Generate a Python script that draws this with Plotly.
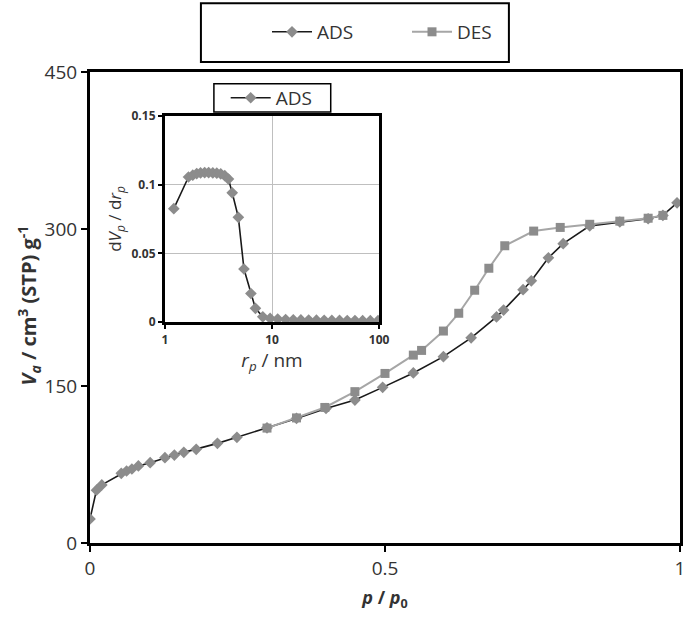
import plotly.graph_objects as go

# Main isotherm data
ads_x = [0.0, 0.011, 0.02, 0.053, 0.062, 0.071, 0.082, 0.102, 0.127, 0.143, 0.159, 0.180,
         0.216, 0.249, 0.30, 0.35, 0.40, 0.449, 0.496, 0.548, 0.599, 0.646, 0.689, 0.701,
         0.734, 0.748, 0.777, 0.802, 0.847, 0.898, 0.946, 0.971, 0.995]
ads_y = [23, 50.5, 55.5, 66.6, 68.8, 70.7, 73.6, 76.7, 81.5, 84, 86.6, 89.5,
         95.2, 101, 110, 119, 128.5, 136.6, 148.7, 162.5, 178, 196, 216, 222.5,
         242, 250.5, 272.5, 286, 303, 306.7, 309.8, 313, 325]

des_x = [0.30, 0.35, 0.398, 0.449, 0.50, 0.548, 0.562, 0.599, 0.625, 0.652, 0.676, 0.703,
         0.752, 0.797, 0.847, 0.898, 0.946, 0.971]
des_y = [109.8, 119.5, 129.5, 144.6, 162, 179.5, 184, 202.5, 219.5, 241.5, 262.5, 284,
         298, 301.5, 304.5, 307.5, 310.3, 313]

# Inset pore size distribution
psd_r = [1.21, 1.66, 1.82, 1.98, 2.15, 2.35, 2.56, 2.80, 3.05, 3.32, 3.62, 3.92, 4.25, 4.85,
         5.47, 6.35, 7.0, 8.2, 9.6, 11.3, 13.4, 15.8, 18.6, 22.0, 26.0, 30.7, 36.2, 42.7,
         50.4, 59.5, 70.2, 82.8, 97.7]
psd_v = [0.0825, 0.1055, 0.1068, 0.108, 0.1085, 0.1087, 0.1087, 0.1085, 0.1083, 0.1078, 0.1065, 0.104,
         0.094, 0.0762, 0.0386, 0.0208, 0.0100, 0.0038, 0.0027, 0.0022, 0.0019, 0.0017, 0.0016,
         0.0015, 0.0014, 0.0013, 0.0012, 0.0012, 0.0011, 0.0011, 0.0010, 0.0010, 0.0010]

main_ticks_y = [0, 150, 300, 450]
main_ticks_x = [0, 0.5, 1]
inset_ticks_y = [0, 0.05, 0.1, 0.15]
inset_ticks_y_text = ["0", "0.05", "0.1", "0.15"]
inset_ticks_x = [1, 10, 100]

MARK = "#8c8c8c"
FONT = "Open Sans"
TXT = "#333333"

fig = go.Figure()

fig.add_trace(go.Scatter(
    x=ads_x, y=ads_y, mode="lines+markers", name="ADS",
    line=dict(color="#1a1a1a", width=1.6),
    marker=dict(symbol="diamond", size=9, color=MARK),
    legend="legend", xaxis="x", yaxis="y"))
fig.add_trace(go.Scatter(
    x=des_x, y=des_y, mode="lines+markers", name="DES",
    line=dict(color="#a6a6a6", width=2),
    marker=dict(symbol="square", size=9, color=MARK),
    legend="legend", xaxis="x", yaxis="y"))
fig.add_trace(go.Scatter(
    x=psd_r, y=psd_v, mode="lines+markers", name="ADS",
    line=dict(color="#1a1a1a", width=1.6),
    marker=dict(symbol="diamond", size=9, color=MARK),
    legend="legend2", xaxis="x2", yaxis="y2"))

fig.update_layout(
    width=685, height=621,
    margin=dict(l=90, r=5, t=72, b=78, autoexpand=False),
    paper_bgcolor="white", plot_bgcolor="white",
    font=dict(family=FONT, color=TXT),
    xaxis=dict(
        domain=[0, 1], range=[0, 1], tickvals=main_ticks_x, ticktext=["0", "0.5", "1"],
        showgrid=False, zeroline=False, showline=True, linecolor="black", linewidth=3,
        mirror=True, ticks="outside", ticklen=6, tickwidth=2, tickcolor="black",
        tickfont=dict(size=19, color=TXT), automargin=False, ticklabeloverflow="allow",
        title=dict(text="<b><i>p</i> / <i>p</i><sub>0</sub></b>", font=dict(size=18, color=TXT), standoff=12),
    ),
    yaxis=dict(
        domain=[0, 1], range=[0, 450], tickvals=main_ticks_y,
        showgrid=False, zeroline=False, showline=True, linecolor="black", linewidth=3,
        mirror=True, ticks="outside", ticklen=6, tickwidth=2, tickcolor="black",
        tickfont=dict(size=19, color=TXT), automargin=False, ticklabeloverflow="allow",
    ),
    xaxis2=dict(
        domain=[0.127, 0.49], anchor="y2", type="log", range=[0, 2],
        tickvals=inset_ticks_x, ticktext=["1", "10", "100"],
        showgrid=True, gridcolor="#bfbfbf", gridwidth=1,
        zeroline=False, showline=True, linecolor="black", linewidth=3, mirror=True,
        ticks="outside", ticklen=4, tickwidth=2, tickcolor="black",
        tickfont=dict(size=12, color=TXT, weight="bold"), ticklabeloverflow="allow",
        title=dict(text="<i>r</i><sub><i>p</i></sub> / nm", font=dict(size=19, color=TXT), standoff=0),
    ),
    yaxis2=dict(
        domain=[0.469, 0.907], anchor="x2", range=[0, 0.15],
        tickvals=inset_ticks_y, ticktext=inset_ticks_y_text,
        showgrid=True, gridcolor="#bfbfbf", gridwidth=1,
        zeroline=False, showline=True, linecolor="black", linewidth=3, mirror=True,
        ticks="outside", ticklen=4, tickwidth=2, tickcolor="black",
        tickfont=dict(size=12, color=TXT, weight="bold"), ticklabeloverflow="allow",
        title=dict(text="d<i>V</i><sub><i>p</i></sub> / d<i>r</i><sub><i>p</i></sub>",
                   font=dict(size=17, color=TXT), standoff=6),
    ),
    legend=dict(
        orientation="h", x=0.30, y=1.085, xanchor="left", yanchor="middle",
        bgcolor="rgba(0,0,0,0)", borderwidth=0, itemwidth=40, entrywidth=85,
        font=dict(size=19, color=TXT),
    ),
    legend2=dict(
        orientation="h", x=0.23, y=0.945, xanchor="left", yanchor="middle",
        bgcolor="rgba(0,0,0,0)", borderwidth=0, itemwidth=40,
        font=dict(size=19, color=TXT),
    ),
    shapes=[
        dict(type="rect", xref="paper", yref="paper", x0=0.188, x1=0.710, y0=1.021, y1=1.146,
             line=dict(color="black", width=2), fillcolor="rgba(0,0,0,0)"),
        dict(type="rect", xref="paper", yref="paper", x0=0.210, x1=0.408, y0=0.915, y1=0.975,
             line=dict(color="black", width=1.5), fillcolor="white", layer="below"),
    ],
    annotations=[
        dict(text="<b><i>V</i><sub><i>a</i></sub> / cm<sup>3</sup> (STP) g<sup>-1</sup></b>",
             xref="paper", yref="paper", x=-0.103, y=0.505, xanchor="center", yanchor="middle",
             textangle=-90, showarrow=False, font=dict(size=20, color=TXT)),
    ],
)

fig.write_html("out.html", config={"displayModeBar": False},
               post_script="document.body.style.margin='0px';")
